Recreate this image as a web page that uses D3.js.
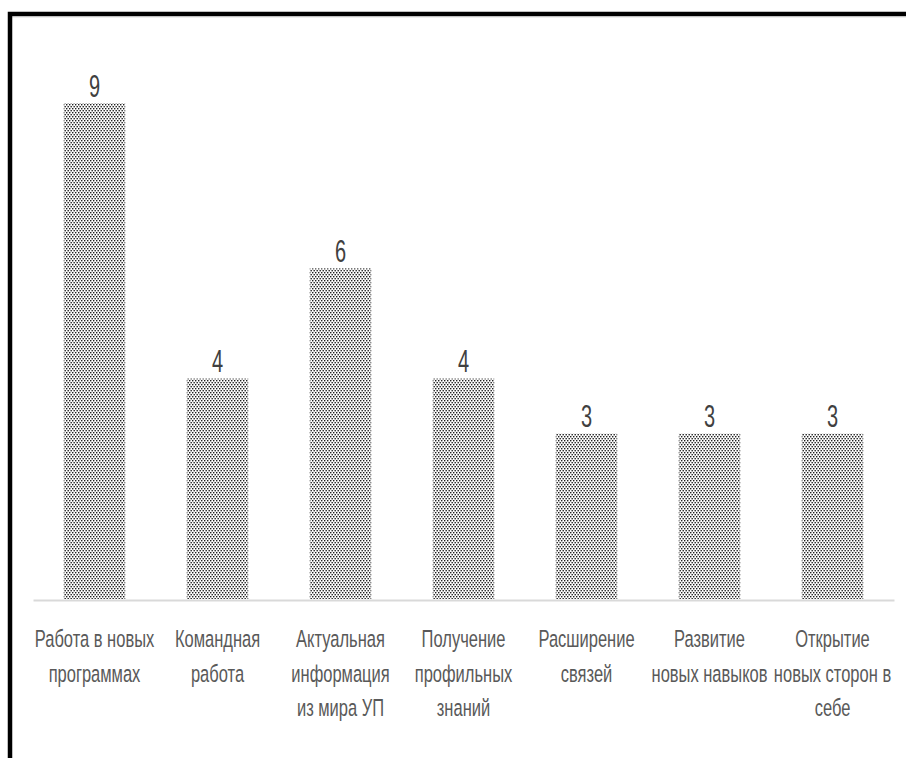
<!DOCTYPE html>
<html>
<head>
<meta charset="utf-8">
<script src="https://cdn.jsdelivr.net/npm/d3@7"></script>
<style>
  html, body { margin: 0; padding: 0; background: #ffffff; }
  svg { display: block; }
</style>
</head>
<body>
<svg id="chart" width="906" height="758"></svg>
<script>
// ---- data ----
const categories = [
  ["Работа в новых", "программах"],
  ["Командная", "работа"],
  ["Актуальная", "информация", "из мира УП"],
  ["Получение", "профильных", "знаний"],
  ["Расширение", "связей"],
  ["Развитие", "новых навыков"],
  ["Открытие", "новых сторон в", "себе"]
];
const values = [9, 4, 6, 4, 3, 3, 3];
const yDomain = [0, 10];

// ---- layout ----
const W = 906, H = 758;
const baseY = 599, topY = 48;
const left = 33, right = 894;

const svg = d3.select("#chart");

// background + frame
svg.append("rect").attr("x", 0).attr("y", 0).attr("width", W).attr("height", H).attr("fill", "#fff");
svg.append("line").attr("x1", 8).attr("x2", W).attr("y1", 17.5).attr("y2", 17.5)
  .attr("stroke", "#eeeeee").attr("stroke-width", 1);
svg.append("rect").attr("x", 10).attr("y", 14).attr("width", W + 20).attr("height", H + 20)
  .attr("fill", "none").attr("stroke", "#000").attr("stroke-width", 4.5);

// pattern
const defs = svg.append("defs");
const pat = defs.append("pattern").attr("id", "dots").attr("patternUnits", "userSpaceOnUse")
  .attr("width", 3).attr("height", 4);
pat.append("rect").attr("width", 3).attr("height", 4).attr("fill", "#ffffff");
pat.append("rect").attr("x", 0).attr("y", 0).attr("width", 1.4).attr("height", 1.4).attr("fill", "#1e1e1e");
pat.append("rect").attr("x", 1.5).attr("y", 2).attr("width", 1.4).attr("height", 1.4).attr("fill", "#1e1e1e");

const idx = d3.range(values.length);
const x = d3.scaleBand().domain(idx).range([left, right]).paddingInner(0.5).paddingOuter(0.25);
const y = d3.scaleLinear().domain(yDomain).range([baseY, topY]);

// bars
svg.append("g").selectAll("rect").data(idx).join("rect")
  .attr("x", i => x(i))
  .attr("width", x.bandwidth())
  .attr("y", i => y(values[i]))
  .attr("height", i => y(0) - y(values[i]))
  .attr("fill", "url(#dots)");

// axis line
const axis = d3.axisBottom(x).tickSize(0).tickFormat("");
const gAxis = svg.append("g").attr("transform", `translate(0,${baseY + 1})`).call(axis);
gAxis.select(".domain").attr("stroke", "#d9d9d9").attr("stroke-width", 2);

// value labels
svg.append("g").selectAll("text").data(idx).join("text")
  .attr("transform", i => `translate(${x(i) + x.bandwidth() / 2},${y(values[i]) - 6.5}) scale(1,1.55)`)
  .attr("text-anchor", "middle")
  .attr("font-family", "'Liberation Sans', Arial, sans-serif")
  .attr("font-size", 20)
  .attr("fill", "#404040")
  .text(i => values[i]);

// category labels
const lineBase = 647, lineStep = 34.5;
const gl = svg.append("g");
idx.forEach(i => {
  categories[i].forEach((line, k) => {
    gl.append("text")
      .attr("transform", `translate(${x(i) + x.bandwidth() / 2},${lineBase + k * lineStep}) scale(1,1.4)`)
      .attr("text-anchor", "middle")
      .attr("font-family", "'Liberation Sans', Arial, sans-serif")
      .attr("font-size", 16.5)
      .attr("fill", "#595959")
      .text(line);
  });
});
</script>
</body>
</html>
